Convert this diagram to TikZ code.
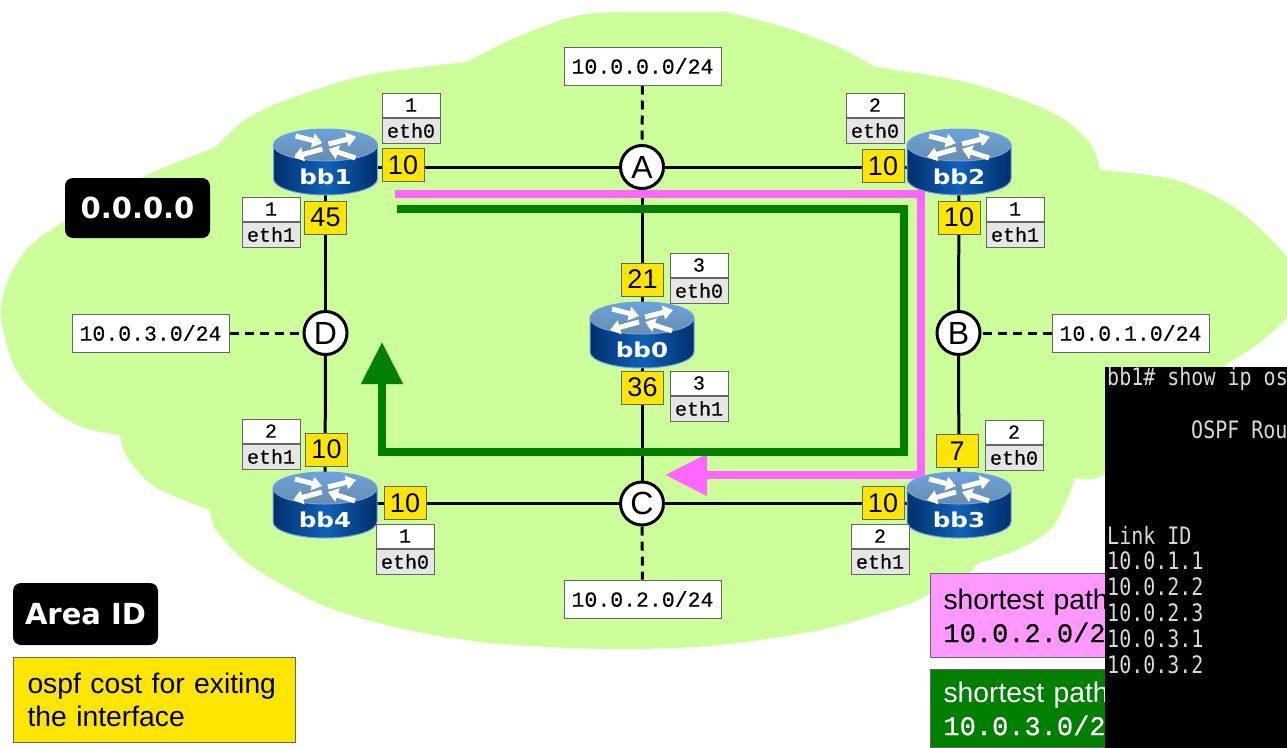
\documentclass[tikz,border=0pt]{standalone}
\usepackage{graphicx}
\usepackage{fontspec}
\setmainfont{Liberation Sans}
\setmonofont{Liberation Mono}
\newfontfamily\boxfont{Liberation Mono}[FakeBold=0.35]
\newfontfamily\keyfont{Liberation Mono}[FakeBold=0.6]
\newfontfamily\labelfont{DejaVu Sans}
\newfontfamily\termfont{DejaVu Sans Mono}
\usepackage{tikz}
\usepackage{xcolor}
\usetikzlibrary{positioning,arrows.meta,backgrounds}

\definecolor{cloudgreen}{HTML}{CCFF99}
\definecolor{costyellow}{HTML}{FFE600}
\definecolor{pathpink}{HTML}{FF66FF}
\definecolor{legendpink}{HTML}{FF99FF}
\definecolor{pathgreen}{HTML}{007F00}
\definecolor{boxgrey}{HTML}{666666}
\definecolor{ifgrey}{HTML}{E6E6E6}
\definecolor{rdark}{HTML}{002F6C}
\definecolor{rmid}{HTML}{0F62B8}
\definecolor{rrim}{HTML}{6FA0F0}
\definecolor{rtop}{HTML}{68A4E0}
\definecolor{rlow}{HTML}{6B8CA8}

\tikzset{
 link/.style={line width=3pt},
 stub/.style={line width=3pt, dash pattern=on 9pt off 6pt},
 cost/.style={draw=boxgrey, line width=1pt, fill=costyellow, minimum width=42pt, minimum height=33pt, inner sep=0pt, font=\fontsize{27}{27}\selectfont},
 ifnum/.style={draw=boxgrey, line width=1pt, fill=white, minimum width=58pt, minimum height=24pt, inner sep=0pt, font=\boxfont\fontsize{20}{20}\selectfont},
 ifname/.style={ifnum, fill=ifgrey, minimum height=25pt},
 subnet/.style={draw=boxgrey, line width=1pt, fill=white, minimum width=157pt, minimum height=38pt, inner sep=0pt, font=\boxfont\fontsize{21.5}{21.5}\selectfont},
 hub/.style={circle, draw, line width=3pt, fill=white, minimum size=43pt, inner sep=0pt, font=\fontsize{32}{32}\selectfont},
 area/.style={rounded corners=8pt, fill=black, text=white, inner sep=0pt, font=\labelfont\bfseries\fontsize{29}{29}\selectfont},
 legend/.style={draw=boxgrey, line width=1pt, anchor=north west, align=left, inner sep=0pt, font=\fontsize{28.3}{33}\selectfont},
 rlabel/.style={inner sep=0pt, text=white, font=\labelfont\bfseries\fontsize{20.5}{20.5}\selectfont},
 rarrow/.style={white, line width=5pt, -{Triangle[width=14pt,length=10pt]}},
 term/.style={anchor=west, inner sep=0pt, text=white!85!black, font=\termfont\fontsize{20}{20}\selectfont},
 pathline/.style={line width=8pt, -{Triangle[width=40pt,length=42pt]}},
 lobe/.style={smooth, tension=.5}
}

\begin{document}
\begin{tikzpicture}[x=1pt, y=-1pt]
 \useasboundingbox (0,0) rectangle (1287,747);

 % hubs and subnets
 \node[hub] (A) at (642,167) {A};
 \node[hub] (B) at (958.5,333) {B};
 \node[hub] (C) at (642,503.5) {C};
 \node[hub] (D) at (325.5,333) {D};

 \node[subnet] (net0) at (642.5,66) {10.0.0.0/24};
 \node[subnet] (net1) at (1130.5,333) {10.0.1.0/24};
 \node[subnet] (net2) at (642.5,599) {10.0.2.0/24};
 \node[subnet] (net3) at (150.5,333) {10.0.3.0/24};

 % shortest paths
 \coordinate (pinkstart) at (395,194);
 \coordinate (pinkend) at (665,475);
 \coordinate (greenstart) at (397,209);
 \coordinate (greenend) at (382,342);
 \draw[pathline, pathpink] (pinkstart) -- (921,194) -- (921,475) -- (pinkend);
 \draw[pathline, pathgreen] (greenstart) -- (904,209) -- (904,452) -- (382,452) -- (greenend);

 % routers
 \foreach \rname/\rx/\ry/\ly in {bb0/642/335/335, bb1/325.5/162/167, bb2/959/162/167, bb3/959/505/503.5, bb4/325/505/503.5} {
  \begin{scope}[shift={(\rx,\ry)}]
   \shade[left color=rdark, right color=rdark, middle color=rmid, draw=rrim, line width=1pt]
    (-52,-17) -- (-52,17) arc[x radius=52pt, y radius=16pt, start angle=180, end angle=360] -- (52,-17) -- cycle;
   \shade[top color=rtop, bottom color=rlow, draw=rrim, line width=1pt]
    (0,-17) ellipse[x radius=52pt, y radius=16pt];
   \draw[rarrow] (-30,-26) -- (-3,-19);
   \draw[rarrow] (3,-18) -- (31,-25);
   \draw[rarrow] (-3,-13) -- (-32,-5);
   \draw[rarrow] (30,-4) -- (3,-13);
  \end{scope}
  \coordinate (\rname) at (\rx,\ly);
  \node[rlabel] (\rname label) at (\rx,\ry+15) {\scalebox{1.2}[1]{\rname}};
 }

 % area, links and stubs go under everything
 \begin{scope}[on background layer]
  \fill[cloudgreen]
   plot[lobe] coordinates {(467,62) (510,40) (571,17) (612,12)}
   -- plot[lobe] coordinates {(727,12) (784,27) (838,47) (875,67)}
   -- plot[lobe] coordinates {(875,67) (970,83) (1053,113) (1090,143) (1100,170)}
   -- plot[lobe] coordinates {(1100,170) (1176,180) (1238,210) (1287,257) (1300,285) (1287,317) (1259,343) (1230,362)}
   -- plot[lobe] coordinates {(1230,362) (1160,420) (1103,475) (1075,478)}
   -- plot[lobe] coordinates {(1075,478) (1067,500) (1050,530) (1017,550) (980,563) (973,570)}
   -- plot[lobe] coordinates {(973,570) (928,595) (900,607) (820,630) (720,645) (640,649) (571,648) (490,643) (408,630) (327,607) (253,567) (216,530) (210,510)}
   -- plot[lobe] coordinates {(210,510) (155,487) (127,457) (120,435)}
   -- plot[lobe] coordinates {(120,435) (82,427) (49,407) (16,370) (1,317) (8,280) (29,247) (65,221) (143,177) (216,147)}
   -- plot[lobe] coordinates {(216,147) (245,120) (286,100) (367,75) (467,62)}
   -- cycle;
  \draw[link] (bb1) -- (A);
  \draw[link] (A) -- (bb2);
  \draw[link] (bb4) -- (C);
  \draw[link] (C) -- (bb3);
  \draw[link] (bb1) -- (D);
  \draw[link] (D) -- (bb4);
  \draw[link] (bb2) -- (B);
  \draw[link] (B) -- (bb3);
  \draw[link] (A) -- (bb0);
  \draw[link] (bb0) -- (C);
  \draw[stub] (net0) -- (A);
  \draw[stub] (net1) -- (B);
  \draw[stub] (C) -- (net2);
  \draw[stub] (net3) -- (D);
 \end{scope}

 % costs
 \foreach \cname/\cx/\cy/\cval in {c1/403/165/10, c2/325.5/217.5/45, c3/883/166/10, c4/959/217.5/10,
   c5/642.5/279.5/21, c6/642.5/387.5/36, c7/957/451/7, c8/326.5/449.5/10, c9/405/503/10, c10/883/503/10} {
  \node[cost] (\cname) at (\cx,\cy) {\cval};
 }

 % interface boxes
 \foreach \iname/\ix/\iy/\inum/\ieth in {i1/411/105/1/eth0, i2/271/209/1/eth1, i3/875/105/2/eth0, i4/1015/209/1/eth1,
   i5/699/265/3/eth0, i6/699/383/3/eth1, i7/1014/432/2/eth0, i8/880/536/2/eth1, i9/271/431/2/eth1, i10/405/536/1/eth0} {
  \node[ifnum] (\iname) at (\ix,\iy) {\inum};
  \node[ifname, below=0pt of \iname] (\iname e) {\ieth};
 }

 % area and legends
 \node[area, minimum width=145pt, minimum height=60pt] (areaval) at (137.5,208) {0.0.0.0};
 \node[area, minimum width=145pt, minimum height=62pt] (areakey) at (85.5,614) {Area ID};
 \node[legend, fill=costyellow, minimum width=282pt, minimum height=85pt, text width=282pt] (costkey) at (13,657)
  {\hspace*{14pt}ospf cost for exiting\\\hspace*{14pt}the interface};
 \node[legend, fill=legendpink, minimum width=190pt, minimum height=84pt, text width=190pt] (pinkkey) at (930,573)
  {\hspace*{13pt}shortest path\\\hspace*{13pt}{\keyfont\fontsize{27}{33}\selectfont 10.0.2.0/2}};
 \node[legend, fill=pathgreen, text=white, minimum width=190pt, minimum height=78pt, text width=190pt] (greenkey) at (930,669)
  {\hspace*{13pt}shortest path\\\hspace*{13pt}{\keyfont\fontsize{27}{33}\selectfont 10.0.3.0/2}};

 % terminal
 \fill (1105,367) rectangle (1287,752);
 \node[term] (t0) at (1107,379) {\scalebox{1}[1.2]{bb1\# show ip os}};
 \node[term] (t1) at (1191,430) {\scalebox{1}[1.2]{OSPF Rou}};
 \node[term] (t2) at (1107,535) {\scalebox{1}[1.2]{Link ID}};
 \foreach \tname/\ty/\taddr in {t3/561/10.0.1.1, t4/587/10.0.2.2, t5/613/10.0.2.3, t6/639/10.0.3.1, t7/665/10.0.3.2} {
  \node[term] (\tname) at (1107,\ty) {\scalebox{1}[1.2]{\taddr}};
 }
\end{tikzpicture}
\end{document}
